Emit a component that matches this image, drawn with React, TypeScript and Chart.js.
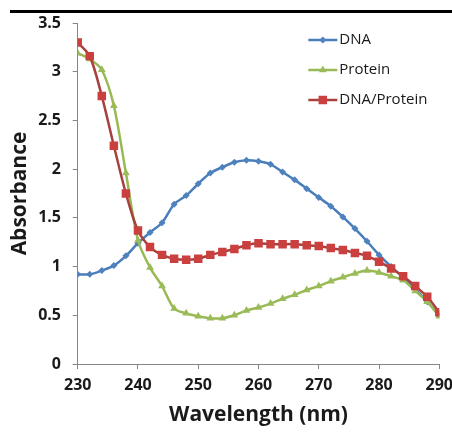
import React, { useEffect, useRef } from "react";
import { Chart, registerables } from "chart.js";

Chart.register(...registerables);

// ---- data ----
const wavelengths = [
  230, 232, 234, 236, 238, 240, 242, 244, 246, 248, 250, 252, 254, 256, 258, 260,
  262, 264, 266, 268, 270, 272, 274, 276, 278, 280, 282, 284, 286, 288, 290,
];
const dnaValues = [
  0.92, 0.92, 0.96, 1.01, 1.11, 1.24, 1.35, 1.45, 1.64, 1.73, 1.85, 1.96, 2.02, 2.07, 2.09, 2.08,
  2.05, 1.97, 1.89, 1.8, 1.71, 1.62, 1.51, 1.39, 1.26, 1.12, 1.0, 0.89, 0.77, 0.64, 0.5,
];
const proteinValues = [
  3.19, 3.13, 3.02, 2.65, 1.96, 1.27, 0.99, 0.8, 0.57, 0.52, 0.49, 0.47, 0.47, 0.5, 0.55, 0.58,
  0.62, 0.67, 0.71, 0.76, 0.8, 0.85, 0.89, 0.93, 0.96, 0.94, 0.9, 0.86, 0.75, 0.64, 0.49,
];
const dnaProteinValues = [
  3.3, 3.16, 2.75, 2.24, 1.75, 1.37, 1.2, 1.12, 1.08, 1.07, 1.08, 1.12, 1.15, 1.18, 1.22, 1.24,
  1.23, 1.23, 1.23, 1.22, 1.21, 1.19, 1.17, 1.14, 1.11, 1.05, 0.98, 0.9, 0.8, 0.69, 0.53,
];
const seriesLabels = ["DNA", "Protein", "DNA/Protein"];
const xTickValues = [230, 240, 250, 260, 270, 280, 290];
const yTickValues = [0, 0.5, 1, 1.5, 2, 2.5, 3, 3.5];
const yTickLabels = ["0", "0.5", "1", "1.5", "2", "2.5", "3", "3.5"];
const xTitle = "Wavelength (nm)";
const yTitle = "Absorbance";

const FONT = "'Open Sans', sans-serif";
const AXIS_COLOR = "#868686";
const TEXT_COLOR = "#1a1a1a";

const toPoints = (ys: number[]) => wavelengths.map((x, i) => ({ x, y: ys[i] }));

function drawMarker(ctx: CanvasRenderingContext2D, style: string, r: number, x: number, y: number) {
  ctx.beginPath();
  if (style === "rectRot") {
    ctx.moveTo(x, y - r);
    ctx.lineTo(x + r, y);
    ctx.lineTo(x, y + r);
    ctx.lineTo(x - r, y);
    ctx.closePath();
  } else if (style === "triangle") {
    const edge = (3 * r) / Math.sqrt(3);
    const h = (edge * Math.sqrt(3)) / 2;
    ctx.moveTo(x, y - (2 * h) / 3);
    ctx.lineTo(x + edge / 2, y + h / 3);
    ctx.lineTo(x - edge / 2, y + h / 3);
    ctx.closePath();
  } else {
    const s = r * Math.SQRT1_2;
    ctx.rect(x - s, y - s, 2 * s, 2 * s);
  }
  ctx.fill();
}

const framePlugin = {
  id: "topRule",
  beforeDraw(chart: any) {
    const ctx = chart.ctx;
    ctx.save();
    ctx.fillStyle = "#000";
    ctx.fillRect(10, 10, chart.width - 10, 3);
    ctx.restore();
  },
};

const legendPlugin = {
  id: "lineLegend",
  afterDraw(chart: any) {
    const ctx = chart.ctx;
    const area = chart.chartArea;
    const x0 = area.right - 131;
    const x1 = x0 + 29;
    ctx.save();
    seriesLabels.forEach((label, i) => {
      const ds = chart.data.datasets.find((d: any) => d.label === label);
      const y = area.top + 17 + i * 30;
      ctx.strokeStyle = ds.borderColor;
      ctx.lineWidth = ds.borderWidth;
      ctx.beginPath();
      ctx.moveTo(x0, y);
      ctx.lineTo(x1, y);
      ctx.stroke();
      ctx.fillStyle = ds.pointBackgroundColor;
      drawMarker(ctx, ds.pointStyle, ds.pointRadius, (x0 + x1) / 2, y);
      ctx.fillStyle = TEXT_COLOR;
      ctx.font = `15px ${FONT}`;
      ctx.textBaseline = "middle";
      ctx.textAlign = "left";
      ctx.fillText(label, x1 + 2, y);
    });
    ctx.restore();
  },
};

export default function App() {
  const canvasRef = useRef<HTMLCanvasElement | null>(null);

  useEffect(() => {
    if (!canvasRef.current) return;
    const chart = new Chart(canvasRef.current, {
      type: "line",
      data: {
        datasets: [
          {
            label: seriesLabels[0],
            data: toPoints(dnaValues),
            borderColor: "#4A7EBB",
            backgroundColor: "#4F81BD",
            pointBackgroundColor: "#4F81BD",
            pointBorderColor: "#4F81BD",
            pointStyle: "rectRot",
            pointRadius: 3.5,
            pointBorderWidth: 0,
            borderWidth: 2.5,
            tension: 0.3,
            order: 2,
          } as any,
          {
            label: seriesLabels[1],
            data: toPoints(proteinValues),
            borderColor: "#98B954",
            backgroundColor: "#9BBB59",
            pointBackgroundColor: "#9BBB59",
            pointBorderColor: "#9BBB59",
            pointStyle: "triangle",
            pointRadius: 4.5,
            pointBorderWidth: 0,
            borderWidth: 2.5,
            tension: 0.3,
            order: 1,
          } as any,
          {
            label: seriesLabels[2],
            data: toPoints(dnaProteinValues),
            borderColor: "#A8403D",
            backgroundColor: "#C9403E",
            pointBackgroundColor: "#C9403E",
            pointBorderColor: "#C9403E",
            pointStyle: "rect",
            pointRadius: 6,
            pointBorderWidth: 0,
            borderWidth: 2.5,
            tension: 0.3,
            order: 0,
          } as any,
        ],
      },
      options: {
        responsive: false,
        animation: false,
        devicePixelRatio: 1,
        layout: { padding: { top: 23, right: 12.7, bottom: 0, left: 0 } },
        plugins: {
          legend: { display: false },
          tooltip: { enabled: false },
        },
        scales: {
          x: {
            type: "linear",
            min: 230,
            max: 290,
            afterBuildTicks: (s: any) => {
              s.ticks = xTickValues.map((v) => ({ value: v }));
            },
            afterFit: (s: any) => {
              s.height = 68;
              s.paddingLeft = 0;
              s.paddingRight = 0;
            },
            grid: {
              display: true,
              drawOnChartArea: false,
              drawTicks: true,
              tickLength: 5,
              color: AXIS_COLOR,
            },
            border: { display: true, color: AXIS_COLOR, width: 1 },
            ticks: {
              font: { family: FONT, size: 16, weight: "bold" },
              color: TEXT_COLOR,
              padding: 7,
              maxRotation: 0,
              autoSkip: false,
              callback: (v: any) => String(v),
            },
            title: {
              display: true,
              text: xTitle,
              font: { family: FONT, size: 21, weight: "bold" },
              color: TEXT_COLOR,
              padding: { top: 0, bottom: 4.4 },
            },
          },
          y: {
            type: "linear",
            min: 0,
            max: 3.5,
            afterBuildTicks: (s: any) => {
              s.ticks = yTickValues.map((v) => ({ value: v }));
            },
            afterFit: (s: any) => {
              s.width = 77.7;
              s.paddingTop = 0;
              s.paddingBottom = 0;
            },
            grid: {
              display: true,
              drawOnChartArea: false,
              drawTicks: true,
              tickLength: 5,
              color: AXIS_COLOR,
            },
            border: { display: true, color: AXIS_COLOR, width: 1 },
            ticks: {
              font: { family: FONT, size: 16, weight: "bold" },
              color: TEXT_COLOR,
              padding: 11.7,
              autoSkip: false,
              callback: (v: any) => {
                const i = yTickValues.indexOf(Number(v));
                return i >= 0 ? yTickLabels[i] : String(v);
              },
            },
            title: {
              display: true,
              text: yTitle,
              font: { family: FONT, size: 21, weight: "bold" },
              color: TEXT_COLOR,
              padding: { top: 7.4, bottom: 0 },
            },
          },
        },
      },
      plugins: [framePlugin, legendPlugin],
    });
    return () => chart.destroy();
  }, []);

  return (
    <div style={{ position: "absolute", left: 0, top: 0, width: 452, height: 432, background: "#fff" }}>
      <canvas ref={canvasRef} width={452} height={432} style={{ display: "block" }} />
    </div>
  );
}
